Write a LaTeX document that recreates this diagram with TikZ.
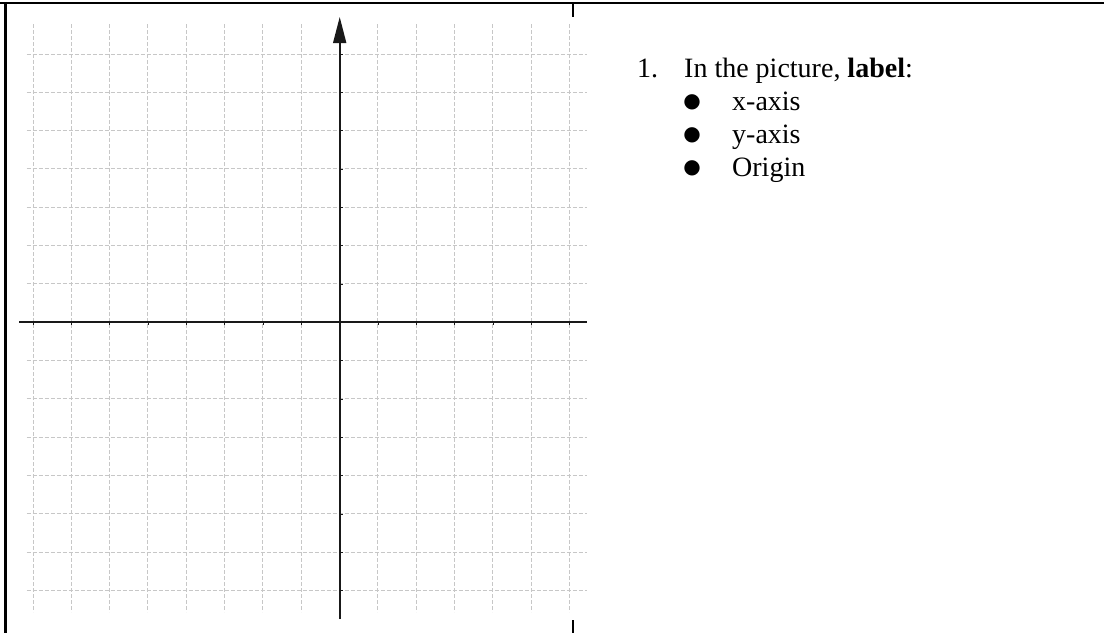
\documentclass[tikz,border=0pt]{standalone}
\usepackage{fontspec}
\setmainfont{Liberation Serif}
\newfontfamily\symfont{DejaVu Sans}
\usetikzlibrary{arrows.meta}

\tikzset{
  gridline/.style={draw=black!22, line width=1pt, dash pattern=on 4pt off 2pt},
  axisline/.style={draw=black!90, line width=1.7pt},
  tickline/.style={draw=black!90, line width=0.9pt},
  frameline/.style={draw=black, line width=2.4pt},
  listtext/.style={anchor=base west, inner sep=0pt, font=\fontsize{28}{33}\selectfont},
  bulletmark/.style={anchor=base, inner sep=0pt, font=\symfont\fontsize{20}{24}\selectfont},
}

\begin{document}
\begin{tikzpicture}[x=1pt,y=-1pt]

      \useasboundingbox (0,0) rectangle (1104,633);

      % table rules
      \draw[frameline] (0,3) -- (1104,3);
      \draw[frameline] (5.5,1.8) -- (5.5,633);
      \draw[frameline, line width=2pt] (573.3,3) -- (573.3,17);
      \draw[frameline, line width=2pt] (573.3,620) -- (573.3,633);

      % grid
      \foreach \k in {0,...,14} {
        \draw[gridline] ({33+38.33*\k},24) -- ({33+38.33*\k},612);
        \draw[gridline] (26.7,{54+38.33*\k}) -- (586.7,{54+38.33*\k});
      }

      % axes
      \coordinate (xleft)   at (19.3,322.3);
      \coordinate (xright)  at (586.7,322.3);
      \coordinate (ybottom) at (339.7,619);
      \coordinate (ytop)    at (339.7,17);

      \draw[axisline] (xleft) -- (xright);
      \draw[axisline, -{Triangle[length=26pt,width=13pt]}] (ybottom) -- (ytop);

      \foreach \k in {0,...,14} {
        \draw[tickline] ({33+38.33*\k},322.3) -- ++(0,3);
        \draw[tickline] (339.7,{54+38.33*\k}) -- ++(3,0);
      }

      % task list
      \node[listtext] (num)  at (637,77) {1.};
      \node[listtext] (task) at (684,77) {In the picture, \textbf{label}:};

      \foreach \y/\name/\txt in {110/xax/x-axis, 143/yax/y-axis, 176/orig/Origin} {
        \node[bulletmark] (b\name) at (692,\y-3) {●};
        \node[listtext] (\name) at (732,\y) {\txt};
      }

    \end{tikzpicture}
\end{document}
